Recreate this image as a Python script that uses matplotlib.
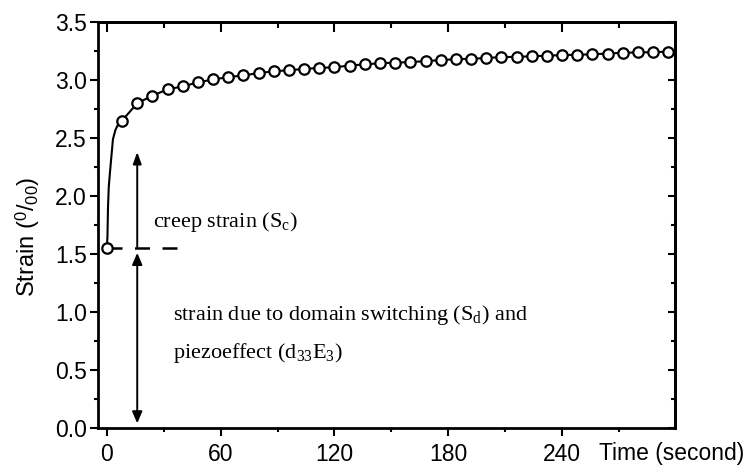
import matplotlib
matplotlib.use("Agg")
import matplotlib.pyplot as plt
from matplotlib.ticker import MultipleLocator

plt.rcParams['font.family'] = ['Liberation Sans', 'DejaVu Sans']
plt.rcParams['mathtext.fontset'] = 'custom'
plt.rcParams['mathtext.rm'] = 'Liberation Serif'
plt.rcParams['mathtext.it'] = 'Liberation Serif:italic'
plt.rcParams['mathtext.sf'] = 'Liberation Sans'

# measured creep data (markers)
time_s = [0, 8, 16, 24, 32, 40, 48, 56, 64, 72, 80, 88, 96, 104, 112, 120,
          128, 136, 144, 152, 160, 168, 176, 184, 192, 200, 208, 216, 224,
          232, 240, 248, 256, 264, 272, 280, 288, 296]
strain = [1.55, 2.65, 2.80, 2.865, 2.92, 2.945, 2.98, 3.005, 3.025, 3.04,
          3.06, 3.075, 3.085, 3.095, 3.105, 3.11, 3.125, 3.135, 3.145, 3.15,
          3.155, 3.163, 3.172, 3.18, 3.183, 3.19, 3.198, 3.20, 3.205, 3.21,
          3.215, 3.218, 3.222, 3.228, 3.235, 3.238, 3.24, 3.245]

# early-time rise of the continuous curve
rise_t = [0, 0.3, 0.6, 1.0, 1.6, 3.2, 4.5, 6.0]
rise_s = [1.55, 1.65, 1.91, 2.08, 2.2, 2.49, 2.57, 2.62]

# annotation levels
switch_level = 1.55
dash_end_t = 40
arrow_t = 16
creep_top = 2.38
bottom_tip = 0.04

fig = plt.figure(figsize=(7.45, 4.69), dpi=100)
ax = fig.add_axes([0.1315, 0.0874, 0.7745, 0.8656])

curve_t = rise_t + time_s[1:]
curve_s = rise_s + strain[1:]
ax.plot(curve_t, curve_s, color='black', lw=1.5, zorder=3)
ax.plot(time_s, strain, ls='none', marker='o', ms=7.5, mfc='white',
        mec='black', mew=1.6, zorder=4)

# dashed level line
ax.plot([0, dash_end_t], [switch_level, switch_level], color='black',
        lw=1.8, dashes=(6, 5), dash_capstyle='butt', zorder=2)

# arrows
ax.annotate('', xy=(arrow_t, creep_top), xytext=(arrow_t, switch_level),
            arrowprops=dict(arrowstyle='-|>,head_length=0.7,head_width=0.25',
                            color='black', lw=1.4, shrinkA=0, shrinkB=0))
ax.annotate('', xy=(arrow_t, bottom_tip), xytext=(arrow_t, switch_level - 0.04),
            arrowprops=dict(arrowstyle='<|-|>,head_length=0.7,head_width=0.3',
                            color='black', lw=1.4, shrinkA=0, shrinkB=0))

serif = dict(family=['Liberation Serif', 'DejaVu Serif'], fontsize=16)
ax.text(24.5, 1.78, r'creep strain (S$_{\mathrm{c}}$)', va='center', ha='left', **serif)
ax.text(35, 0.977, r'strain due to domain switching (S$_{\mathrm{d}}$) and',
        va='center', ha='left', **serif)
ax.text(35, 0.65, r'piezoeffect (d$_{\mathrm{33}}$E$_{\mathrm{3}}$)',
        va='center', ha='left', **serif)

ax.set_xlim(-4.7, 299.5)
ax.set_ylim(0, 3.5)
ax.xaxis.set_major_locator(MultipleLocator(60))
ax.xaxis.set_minor_locator(MultipleLocator(30))
ax.yaxis.set_major_locator(MultipleLocator(0.5))
ax.yaxis.set_minor_locator(MultipleLocator(0.25))
ax.yaxis.set_major_formatter(plt.FuncFormatter(lambda v, p: f'{v:.1f}'))

for sp in ax.spines.values():
    sp.set_linewidth(2)

ax.tick_params(which='both', direction='out', width=1.5, labelsize=16.5,
               top=False, right=False)
ax.tick_params(which='major', length=6)
ax.tick_params(which='minor', length=3)
ax.tick_params(axis='x', pad=5)
ax.tick_params(axis='y', pad=2)

# inward ticks on top and right
top = ax.secondary_xaxis('top')
top.xaxis.set_major_locator(MultipleLocator(60))
top.xaxis.set_minor_locator(MultipleLocator(30))
top.tick_params(which='both', direction='in', width=1.5, labeltop=False)
top.tick_params(which='major', length=7)
top.tick_params(which='minor', length=4)
top.spines['top'].set_linewidth(2)
right = ax.secondary_yaxis('right')
right.yaxis.set_major_locator(MultipleLocator(0.5))
right.yaxis.set_minor_locator(MultipleLocator(0.25))
right.tick_params(which='both', direction='in', width=1.5, labelright=False)
right.tick_params(which='major', length=5)
right.tick_params(which='minor', length=3)
right.spines['right'].set_linewidth(2)

ax.set_ylabel(r'Strain ($^{\mathsf{0}}\mathsf{/}_{\mathsf{00}}$)', fontsize=17)
ax.yaxis.set_label_coords(-0.097, 0.47)
ax.set_xlabel('Time (second)', fontsize=16.5, ha='left', va='center')
ax.xaxis.set_label_coords(0.868, -0.0616)

fig.savefig('out.png', dpi=100)
